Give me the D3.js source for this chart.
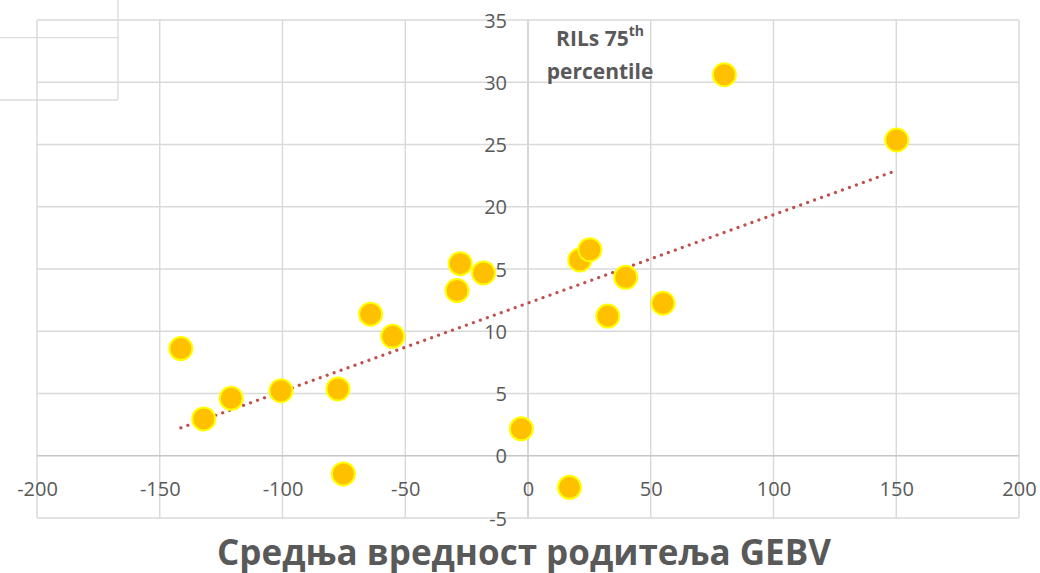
<!DOCTYPE html>
<head>
  <meta charset="utf-8">
  <script src="https://d3js.org/d3.v7.min.js"></script>
  <style>
    body { margin:0; background:#fff; }
    svg { display:block; }
    text { font-family: "Open Sans", sans-serif; fill:#595959; }
  </style>
</head>
<body>
<div id="chart"></div>
<script>

// parent mean GEBV (x) and RILs 75th percentile (y)
var gebv = [-141.4, -132.1, -120.9, -100.6, -77.4, -75.2, -64.1, -55.1, -28.9, -27.6,
            -18.1, -2.7, 16.9, 21.1, 25.2, 32.5, 39.8, 55.0, 80.0, 150.2];
var ril75 = [8.61, 2.96, 4.61, 5.22, 5.36, -1.46, 11.37, 9.59, 13.27, 15.43,
             14.68, 2.16, -2.54, 15.72, 16.55, 11.22, 14.33, 12.25, 30.6, 25.36];

var xTicks = [-200, -150, -100, -50, 0, 50, 100, 150, 200];
var yTicks = [-5, 0, 5, 10, 15, 20, 25, 30, 35];

var xTitle = "Средња вредност родитеља GEBV";
var seriesLabel = ["RILs 75", "th", "percentile"];

var width = 1040, height = 573;

var svg = d3.select("#chart").append("svg")
    .attr("width", width)
    .attr("height", height);

var x = d3.scaleLinear().domain([-200, 200]).range([37, 1019]);
var y = d3.scaleLinear().domain([-5, 35]).range([518, 20]);

// plain hyphen like the original, not the unicode minus
var fmt = function(d) { return String(d); };

// leftover box in the top left corner
var g0 = svg.append("g").attr("stroke", "#dcdcdc").attr("stroke-width", 1.3).attr("fill", "none");
g0.append("path").attr("d", "M0,37.7H118M0,100H118M118,0V100");

// grid
var grid = svg.append("g");
grid.selectAll(".vx").data(xTicks).enter().append("line")
    .attr("x1", function(d) { return x(d); })
    .attr("x2", function(d) { return x(d); })
    .attr("y1", y(35)).attr("y2", y(-5))
    .attr("stroke", function(d) { return d == 0 ? "#c6c6c6" : "#d9d9d9"; })
    .attr("stroke-width", 1.4);
grid.selectAll(".hy").data(yTicks).enter().append("line")
    .attr("y1", function(d) { return y(d); })
    .attr("y2", function(d) { return y(d); })
    .attr("x1", x(-200)).attr("x2", x(200))
    .attr("stroke", function(d) { return d == 0 ? "#c6c6c6" : "#d9d9d9"; })
    .attr("stroke-width", 1.4);

// axes crossing at zero
var xAxis = svg.append("g")
    .attr("transform", "translate(0," + y(0) + ")")
    .call(d3.axisBottom(x).tickValues(xTicks).tickSize(0).tickFormat(fmt));
xAxis.select(".domain").remove();
xAxis.selectAll("text")
    .attr("y", 33).attr("dy", "0.35em")
    .style("font-size", "20px").style("font-family", "'Open Sans', sans-serif").attr("fill", "#595959");

var yAxis = svg.append("g")
    .attr("transform", "translate(" + x(0) + ",0)")
    .call(d3.axisLeft(y).tickValues(yTicks).tickSize(0).tickFormat(fmt));
yAxis.select(".domain").remove();
yAxis.selectAll("text")
    .attr("x", -21).attr("dy", "0.35em")
    .style("font-size", "20px").style("font-family", "'Open Sans', sans-serif").attr("fill", "#595959");

// linear trend line (least squares)
var pts = gebv.map(function(d, i) { return [d, ril75[i]]; });
var mx = d3.mean(gebv), my = d3.mean(ril75);
var sxy = d3.sum(pts, function(p) { return (p[0] - mx) * (p[1] - my); });
var sxx = d3.sum(pts, function(p) { return (p[0] - mx) * (p[0] - mx); });
var slope = sxy / sxx, icpt = my - slope * mx;
var xr = d3.extent(gebv);

svg.append("line")
    .attr("x1", x(xr[0])).attr("y1", y(icpt + slope * xr[0]))
    .attr("x2", x(xr[1])).attr("y2", y(icpt + slope * xr[1]))
    .attr("stroke", "#c0504d")
    .attr("stroke-width", 3.2)
    .attr("stroke-linecap", "round")
    .attr("stroke-dasharray", "0.1 7.3");

// points
svg.append("g").selectAll("circle")
    .data(pts).enter().append("circle")
    .attr("cx", function(d) { return x(d[0]); })
    .attr("cy", function(d) { return y(d[1]); })
    .attr("r", 11.5)
    .attr("fill", "#ffc000")
    .attr("stroke", "#ffff00")
    .attr("stroke-width", 2);

// series label
var lab = svg.append("text")
    .attr("x", 600).attr("y", 46)
    .attr("text-anchor", "middle")
    .style("font-size", "21px").style("font-weight", "bold");
lab.append("tspan").text(seriesLabel[0]);
lab.append("tspan").attr("dy", -10).style("font-size", "14px").text(seriesLabel[1]);
svg.append("text")
    .attr("x", 600).attr("y", 79)
    .attr("text-anchor", "middle")
    .style("font-size", "21px").style("font-weight", "bold")
    .text(seriesLabel[2]);

// axis title
svg.append("text")
    .attr("x", 524).attr("y", 565)
    .attr("text-anchor", "middle")
    .style("font-size", "35px").style("font-weight", "bold")
    .text(xTitle);

</script>
</body>
